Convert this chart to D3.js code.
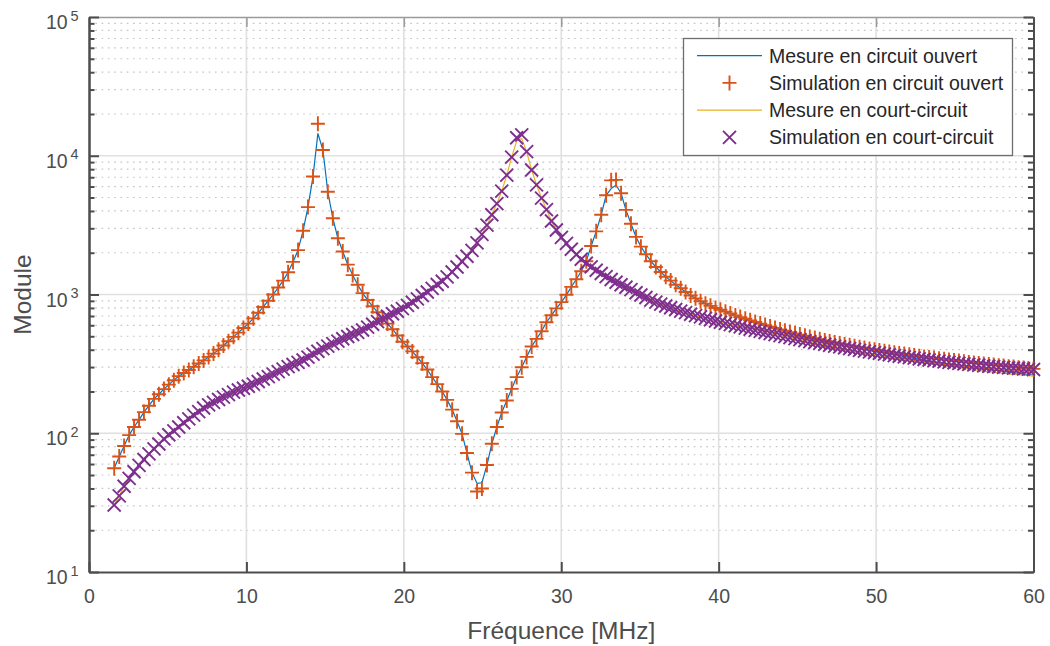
<!DOCTYPE html>
<html>
<head>
<meta charset="utf-8">
<script src="https://cdn.jsdelivr.net/npm/d3@7"></script>
<style>
body { margin: 0; background: #fff; }
svg { font-family: "Liberation Sans", Arial, sans-serif; }
</style>
</head>
<body>
<svg></svg>
<script>
// frequency points (MHz), shared by all four series
let freq = [
  1.60,1.92,2.23,2.55,2.86,3.18,3.49,3.81,4.13,4.44,
  4.76,5.07,5.39,5.70,6.02,6.34,6.65,6.97,7.28,7.60,
  7.91,8.23,8.54,8.86,9.18,9.49,9.81,10.12,10.44,10.75,
  11.07,11.39,11.70,12.02,12.33,12.65,12.96,13.28,13.60,13.91,
  14.23,14.54,14.86,15.17,15.49,15.81,16.12,16.44,16.75,17.07,
  17.38,17.70,18.02,18.33,18.65,18.96,19.28,19.59,19.91,20.23,
  20.54,20.86,21.17,21.49,21.80,22.12,22.44,22.75,23.07,23.38,
  23.70,24.01,24.33,24.65,24.96,25.28,25.59,25.91,26.22,26.54,
  26.85,27.17,27.49,27.80,28.12,28.43,28.75,29.06,29.38,29.69,
  30.01,30.33,30.64,30.96,31.27,31.59,31.90,32.22,32.54,32.85,
  33.17,33.48,33.80,34.11,34.43,34.75,35.06,35.38,35.69,36.01,
  36.32,36.64,36.95,37.27,37.59,37.90,38.22,38.53,38.85,39.16,
  39.48,39.80,40.11,40.43,40.74,41.06,41.37,41.69,42.00,42.32,
  42.64,42.95,43.27,43.58,43.90,44.21,44.53,44.85,45.16,45.48,
  45.79,46.11,46.42,46.74,47.05,47.37,47.69,48.00,48.32,48.63,
  48.95,49.26,49.58,49.90,50.21,50.53,50.84,51.16,51.47,51.79,
  52.11,52.42,52.74,53.05,53.37,53.68,54.00,54.32,54.63,54.95,
  55.26,55.58,55.89,56.21,56.52,56.84,57.16,57.47,57.79,58.10,
  58.42,58.73,59.05,59.37,59.68,60.00
];

let mesureOuvert = [
  56,68,81,97,111,125,142,158,177,191,
  208,224,241,258,272,286,301,318,335,355,
  375,400,429,460,495,531,574,617,673,738,
  813,902,1000,1122,1259,1445,1718,2089,2884,4266,
  7079,14500,11000,5500,3548,2541,2042,1641,1380,1175,
  1023,912,822,745,676,617,562,507,457,422,
  389,353,320,288,254,226,200,174,148,122,
  99,72,52,43.5,44,59,84,111,141,172,
  209,254,299,355,422,479,543,631,708,794,
  881,995,1135,1288,1472,1738,2239,2851,3758,5188,
  5800,6150,5370,4074,3236,2600,2213,1950,1738,1578,
  1452,1343,1259,1175,1109,1042,984,938,895,859,
  828,800,776,752,729,707,687,668,651,634,
  617,602,587,573,560,548,536,525,514,504,
  494,485,475,465,456,447,439,431,423,415,
  408,402,395,389,383,378,372,367,362,357,
  352,347,342,338,334,329,325,321,317,313,
  309,306,302,299,295,292,289,285,282,279,
  276,273,271,268,265,263
];

let simulationOuvert = [
  56,68,81,97,111,125,142,158,177,191,
  208,224,241,258,272,286,301,318,335,355,
  375,400,429,460,495,531,574,617,673,738,
  813,902,1000,1122,1259,1445,1718,2089,2884,4266,
  7079,17000,11000,5500,3548,2541,2042,1641,1380,1175,
  1023,912,822,745,676,617,562,507,457,422,
  389,353,320,288,254,226,200,174,148,122,
  99,72,52,38,40,59,84,111,141,172,
  209,254,299,355,422,479,543,631,708,794,
  881,995,1135,1288,1472,1738,2239,2851,3758,5188,
  6650,6700,5370,4074,3236,2600,2213,1950,1738,1578,
  1452,1343,1259,1175,1109,1042,984,938,895,859,
  828,800,776,752,729,707,687,668,651,634,
  617,602,587,573,560,548,536,525,514,504,
  494,485,476,467,459,451,444,437,430,423,
  417,411,405,400,395,390,385,381,376,372,
  368,363,359,355,352,348,344,341,337,334,
  331,327,324,321,318,316,313,310,307,305,
  302,300,297,295,293,291
];

let mesureCourt = [
  30.4,35.4,41.5,47.3,52.8,58.7,64.7,71.0,77.1,83.6,
  91.0,97.5,104,111,119,127,135,143,152,160,
  167,175,182,190,198,205,211,218,226,236,
  246,256,267,278,290,302,313,324,337,354,
  372,390,407,425,443,461,480,498,515,533,
  555,582,610,638,668,697,726,757,791,834,
  879,929,984,1042,1107,1180,1245,1340,1452,1578,
  1730,1888,2080,2355,2710,3162,3758,4519,5559,7244,
  9772,12800,13300,10720,7889,6166,4955,4093,3388,2917,
  2582,2333,2118,1941,1795,1679,1581,1496,1416,1346,
  1282,1225,1175,1127,1084,1030,991,951,912,881,
  853,826,802,780,759,740,721,705,689,673,
  658,644,631,619,607,595,584,573,562,552,
  542,532,523,514,505,497,489,481,473,465,
  458,451,443,435,428,421,414,407,400,394,
  388,382,376,370,365,359,354,349,344,339,
  335,330,326,322,318,314,310,307,303,300,
  296,293,290,287,284,281,278,276,273,271,
  268,266,264,262,260,258
];

let simulationCourt = [
  30.4,35.4,41.5,47.3,52.8,58.7,64.7,71.0,77.1,83.6,
  91.0,97.5,104,111,119,127,135,143,152,160,
  167,175,182,190,198,205,211,218,226,236,
  246,256,267,278,290,302,313,324,337,354,
  372,390,407,425,443,461,480,498,515,533,
  555,582,610,638,668,697,726,757,791,834,
  879,929,984,1042,1107,1180,1245,1340,1452,1578,
  1730,1888,2080,2355,2710,3162,3758,4519,5559,7244,
  9772,13490,14130,10720,7889,6166,4955,4093,3388,2917,
  2582,2333,2118,1941,1795,1679,1581,1496,1416,1346,
  1282,1225,1175,1127,1084,1030,991,951,912,881,
  853,826,802,780,759,740,721,705,689,673,
  658,644,631,619,607,595,584,573,562,552,
  542,532,523,514,505,497,489,481,473,465,
  458,451,444,438,431,425,419,413,407,402,
  396,391,386,381,377,372,368,363,359,355,
  351,348,344,340,337,334,331,327,324,322,
  319,316,314,311,309,306,304,302,300,298,
  296,295,293,291,290,288
];

let xTicks = [0, 10, 20, 30, 40, 50, 60];
let yDecades = [10, 100, 1000, 10000, 100000];
let legendLabels = [
  'Mesure en circuit ouvert',
  'Simulation en circuit ouvert',
  'Mesure en court-circuit',
  'Simulation en court-circuit'
];

let width = 1050;
let height = 646;
let plotLeft = 89, plotRight = 1033.5, plotTop = 17, plotBottom = 572;
let axisColor = '#4d4d4d';
let textColor = '#4d4d4d';

let xScale = d3.scaleLinear().domain([0, 60]).range([plotLeft, plotRight]);
let yScale = d3.scaleLog().domain([10, 100000]).range([plotBottom, plotTop]);

let minorY = [];
yDecades.slice(0, -1).forEach(d => d3.range(2, 10).forEach(m => minorY.push(d * m)));

let svg = d3.select('svg')
    .attr('width', width)
    .attr('height', height);

// grid
svg.append('g')
    .selectAll('line')
    .data(minorY)
    .enter()
    .append('line')
        .attr('x1', plotLeft).attr('x2', plotRight)
        .attr('y1', d => yScale(d)).attr('y2', d => yScale(d))
        .attr('stroke', '#c4c4c4')
        .attr('stroke-width', 1.2)
        .attr('stroke-dasharray', '1.6 4.7');

svg.append('g')
    .selectAll('line')
    .data(yDecades.slice(1, -1))
    .enter()
    .append('line')
        .attr('x1', plotLeft).attr('x2', plotRight)
        .attr('y1', d => yScale(d)).attr('y2', d => yScale(d))
        .attr('stroke', '#e0e0e0')
        .attr('stroke-width', 1.6);

svg.append('g')
    .selectAll('line')
    .data(xTicks.slice(1, -1))
    .enter()
    .append('line')
        .attr('x1', d => xScale(d)).attr('x2', d => xScale(d))
        .attr('y1', plotTop).attr('y2', plotBottom)
        .attr('stroke', '#e0e0e0')
        .attr('stroke-width', 1.6);

// axes (ticks inward, mirrored on right/top)
function styleAxis(g, color, w) {
    g.select('.domain').attr('stroke', color).attr('stroke-width', w);
    g.selectAll('.tick line').attr('stroke', color).attr('stroke-width', w);
}

let topAxis = svg.append('g')
    .attr('transform', `translate(0, ${plotTop})`)
    .call(d3.axisTop(xScale).tickValues(xTicks).tickSize(-10).tickSizeOuter(0).tickFormat(''));
styleAxis(topAxis, '#9a9a9a', 1.5);

let leftMinor = svg.append('g')
    .attr('transform', `translate(${plotLeft}, 0)`)
    .call(d3.axisLeft(yScale).tickValues(minorY).tickSize(-5.5).tickSizeOuter(0).tickFormat(''));
styleAxis(leftMinor, axisColor, 2);

let leftMajor = svg.append('g')
    .attr('transform', `translate(${plotLeft}, 0)`)
    .call(d3.axisLeft(yScale).tickValues(yDecades).tickSize(-10).tickSizeOuter(0).tickFormat(''));
styleAxis(leftMajor, axisColor, 2);

let rightMinor = svg.append('g')
    .attr('transform', `translate(${plotRight}, 0)`)
    .call(d3.axisRight(yScale).tickValues(minorY).tickSize(-5.5).tickSizeOuter(0).tickFormat(''));
styleAxis(rightMinor, axisColor, 2);

let rightMajor = svg.append('g')
    .attr('transform', `translate(${plotRight}, 0)`)
    .call(d3.axisRight(yScale).tickValues(yDecades).tickSize(-10).tickSizeOuter(0).tickFormat(''));
styleAxis(rightMajor, axisColor, 2);

let bottomAxis = svg.append('g')
    .attr('transform', `translate(0, ${plotBottom})`)
    .call(d3.axisBottom(xScale).tickValues(xTicks).tickSize(-10).tickSizeOuter(0).tickPadding(17));
styleAxis(bottomAxis, axisColor, 2);
bottomAxis.selectAll('.tick text')
    .attr('fill', textColor)
    .style('font-size', '19.5px')
    .style('font-family', '"Liberation Sans", Arial, sans-serif');

// y tick labels as 10^n
let yLabels = svg.append('g')
    .selectAll('text')
    .data(yDecades)
    .enter()
    .append('text')
        .attr('fill', textColor)
        .attr('y', d => yScale(d) + 12);
yLabels.append('tspan')
    .attr('x', 46)
    .style('font-size', '19.5px')
    .text('10');
yLabels.append('tspan')
    .attr('x', 70.5)
    .attr('dy', -8.5)
    .style('font-size', '14.5px')
    .text(d => Math.round(Math.log10(d)));

// axis titles
svg.append('text')
    .attr('x', (plotLeft + plotRight) / 2)
    .attr('y', 639)
    .attr('fill', textColor)
    .style('font-size', '24.5px')
    .style('text-anchor', 'middle')
    .text('Fréquence [MHz]');

svg.append('text')
    .attr('transform', 'rotate(-90)')
    .attr('x', -(plotTop + plotBottom) / 2)
    .attr('y', 31)
    .attr('fill', textColor)
    .style('font-size', '24.5px')
    .style('text-anchor', 'middle')
    .text('Module');

// series
let plusPath = 'M-7,0H7M0,-7.5V7.5';
let crossPath = 'M-6.5,-6.5L6.5,6.5M-6.5,6.5L6.5,-6.5';

let line = series => d3.line()
    .x((d, i) => xScale(freq[i]))
    .y(d => yScale(d))(series);

svg.append('path')
    .attr('d', line(mesureOuvert))
    .attr('fill', 'none')
    .attr('stroke', '#0072bd')
    .attr('stroke-width', 1.2);

svg.append('g')
    .selectAll('path')
    .data(simulationOuvert)
    .enter()
    .append('path')
        .attr('d', plusPath)
        .attr('transform', (d, i) => `translate(${xScale(freq[i])}, ${yScale(d)})`)
        .attr('fill', 'none')
        .attr('stroke', '#d95319')
        .attr('stroke-width', 1.9);

svg.append('path')
    .attr('d', line(mesureCourt))
    .attr('fill', 'none')
    .attr('stroke', '#edb120')
    .attr('stroke-width', 1.2);

svg.append('g')
    .selectAll('path')
    .data(simulationCourt)
    .enter()
    .append('path')
        .attr('d', crossPath)
        .attr('transform', (d, i) => `translate(${xScale(freq[i])}, ${yScale(d)})`)
        .attr('fill', 'none')
        .attr('stroke', '#7e2f8e')
        .attr('stroke-width', 1.9);

// legend
let legend = svg.append('g');
legend.append('rect')
    .attr('x', 683.5).attr('y', 38.5)
    .attr('width', 329).attr('height', 117)
    .attr('fill', '#fff')
    .attr('stroke', '#6e6e6e')
    .attr('stroke-width', 1.3);

let rows = legend.selectAll('g')
    .data(legendLabels)
    .enter()
    .append('g')
        .attr('transform', (d, i) => `translate(0, ${55.7 + i * 27.2})`);

rows.filter((d, i) => i % 2 === 0)
    .append('line')
        .attr('x1', 697).attr('x2', 762)
        .attr('stroke', (d, i) => i === 0 ? '#0072bd' : '#edb120')
        .attr('stroke-width', 1.2);

rows.filter((d, i) => i % 2 === 1)
    .append('path')
        .attr('d', (d, i) => i === 0 ? plusPath : crossPath)
        .attr('transform', 'translate(729.5, 0)')
        .attr('fill', 'none')
        .attr('stroke', (d, i) => i === 0 ? '#d95319' : '#7e2f8e')
        .attr('stroke-width', 1.9);

rows.append('text')
    .attr('x', 769)
    .attr('dy', 6.8)
    .attr('fill', '#262626')
    .style('font-size', '19.5px')
    .text(d => d);
</script>
</body>
</html>
